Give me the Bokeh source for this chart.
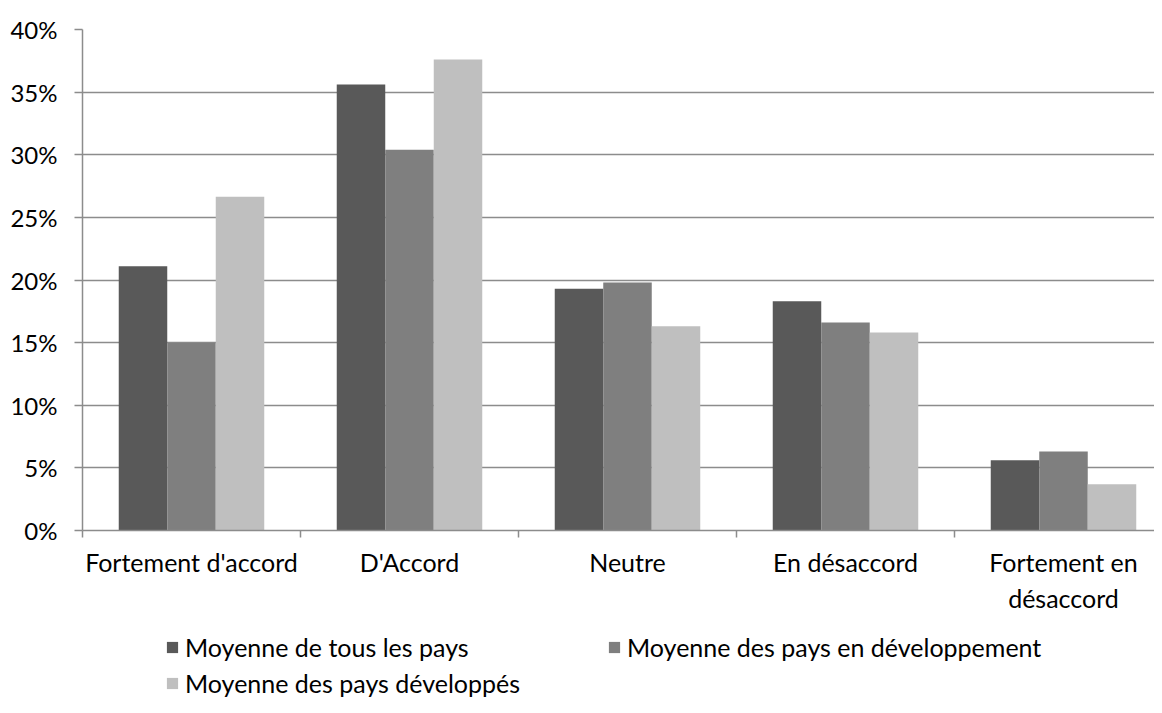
from bokeh.plotting import figure
from bokeh.models import (Range1d, FixedTicker, PrintfTickFormatter, Legend,
                          LegendItem, ColumnDataSource)
from bokeh.transform import dodge
from bokeh.layouts import column
from bokeh.embed import file_html
from bokeh.resources import INLINE

# ---- data ----
categories = ["Fortement d'accord", "D'Accord", "Neutre", "En désaccord", "Fortement en désaccord"]
x_tick_labels = ["Fortement d'accord", "D'Accord", "Neutre", "En désaccord", "Fortement en\ndésaccord"]
series_names = ["Moyenne de tous les pays",
                "Moyenne des pays en développement",
                "Moyenne des pays développés"]
tous_pays = [21.1, 35.6, 19.3, 18.3, 5.6]
pays_en_dev = [15.0, 30.4, 19.8, 16.6, 6.3]
pays_dev = [26.65, 37.6, 16.3, 15.8, 3.7]
y_ticks = [0, 5, 10, 15, 20, 25, 30, 35, 40]
colors = ["#595959", "#7f7f7f", "#bfbfbf"]

FONT = "Lato"
GRID = "#8c8c8c"

pos = [i + 0.5 for i in range(len(categories))]
src = ColumnDataSource(dict(pos=pos, cat=categories, a=tous_pays, b=pays_en_dev, c=pays_dev))

W = 1154
H_MAIN, H_LEG = 620, 77
LEFT, TOP, BOTTOM = 82, 29, 90
p = figure(width=W, height=H_MAIN, x_range=Range1d(0, (W - LEFT) / 218.0), y_range=Range1d(0, 40),
           output_backend="svg", toolbar_location=None,
           min_border_left=LEFT, min_border_right=0, min_border_top=TOP, min_border_bottom=BOTTOM)
p.outline_line_color = None
p.background_fill_color = "white"
p.border_fill_color = "white"

bw = 0.2225
for key, off, col in zip(["a", "b", "c"], [-bw, 0.0, bw], colors):
    p.vbar(x=dodge("pos", off, range=p.x_range), top=key, width=bw, bottom=0,
           source=src, fill_color=col, line_color=None)

# y axis
p.yaxis.ticker = FixedTicker(ticks=y_ticks)
p.yaxis.formatter = PrintfTickFormatter(format="%d%%")
p.yaxis.major_tick_out = 8
p.yaxis.major_tick_in = 0
p.yaxis.minor_tick_out = 0
p.yaxis.minor_tick_in = 0
p.yaxis.major_label_standoff = 17
p.yaxis.axis_line_color = GRID
p.yaxis.axis_line_width = 1.5
p.yaxis.major_tick_line_color = GRID
p.yaxis.major_tick_line_width = 1.5
p.yaxis.major_label_text_font = FONT
p.yaxis.major_label_text_font_size = "24px"
p.yaxis.major_label_text_color = "#000000"

p.ygrid.ticker = FixedTicker(ticks=y_ticks)
p.ygrid.grid_line_color = GRID
p.ygrid.grid_line_width = 1.5
p.xgrid.visible = False

# x axis
p.xaxis.ticker = FixedTicker(ticks=pos, minor_ticks=[0, 1, 2, 3, 4])
p.xaxis.major_label_overrides = {pp: lab for pp, lab in zip(pos, x_tick_labels)}
p.xaxis.major_tick_out = 0
p.xaxis.major_tick_in = 0
p.xaxis.minor_tick_out = 7
p.xaxis.minor_tick_in = 0
p.xaxis.minor_tick_line_color = GRID
p.xaxis.minor_tick_line_width = 1.5
p.xaxis.axis_line_color = GRID
p.xaxis.axis_line_width = 1.5
p.xaxis.major_label_standoff = 9
p.xaxis.major_label_text_font = FONT
p.xaxis.major_label_text_font_size = "25px"
p.xaxis.major_label_text_color = "#000000"

# legend in its own strip below the chart (same series, drawn out of view)
lf = figure(width=W, height=H_LEG, x_range=Range1d(-20, -19), y_range=Range1d(0, 1),
            output_backend="svg", toolbar_location=None,
            min_border_left=0, min_border_right=0, min_border_top=0, min_border_bottom=0)
lf.axis.visible = False
lf.grid.visible = False
lf.outline_line_color = None
lf.background_fill_color = "white"
lf.border_fill_color = "white"
leg_renderers = [lf.vbar(x="pos", top=key, width=bw, source=src, fill_color=c, line_color=None)
                 for key, c in zip(["a", "b", "c"], colors)]

legend = Legend(items=[LegendItem(label=n, renderers=[r]) for n, r in zip(series_names, leg_renderers)],
                ncols=2, orientation="horizontal", location=(83, -4), margin=0, padding=0,
                spacing=0, glyph_width=14, glyph_height=14, label_standoff=6,
                label_width=422, label_height=36,
                label_text_font=FONT, label_text_font_size="25px", label_text_color="#000000",
                border_line_color=None, background_fill_alpha=0)
lf.add_layout(legend)

layout = column(p, lf, spacing=0)
open("out.html", "w").write(file_html(layout, INLINE))
